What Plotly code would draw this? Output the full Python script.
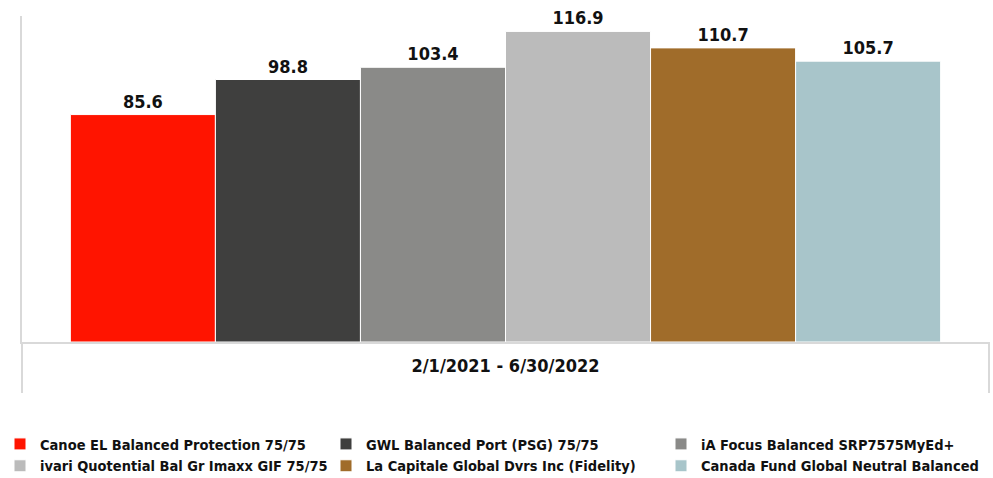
import plotly.graph_objects as go

category = "2/1/2021 - 6/30/2022"
funds = [
    "Canoe EL Balanced Protection 75/75",
    "GWL Balanced Port (PSG) 75/75",
    "iA Focus Balanced SRP7575MyEd+",
    "ivari Quotential Bal Gr Imaxx GIF 75/75",
    "La Capitale Global Dvrs Inc (Fidelity)",
    "Canada Fund Global Neutral Balanced",
]
values = [85.6, 98.8, 103.4, 116.9, 110.7, 105.7]
colors = ["#FF1400", "#3F3F3E", "#8A8A88", "#BBBBBB", "#A06C2A", "#A8C5CA"]
# legend column for each fund (3 columns x 2 rows)
legend_cols = ["legend", "legend2", "legend3", "legend", "legend2", "legend3"]

FONT = "DejaVu Sans Condensed, Roboto, sans-serif"

fig = go.Figure()
for name, v, c, lg in zip(funds, values, colors, legend_cols):
    fig.add_trace(go.Bar(
        x=[category], y=[v], name=name, legend=lg,
        marker=dict(color=c, line=dict(color="white", width=1)),
        text=[f"{v:.1f}"], textposition="outside", cliponaxis=False,
        textfont=dict(family=FONT, size=18, color="#111111", weight="bold"),
    ))

legend_font = dict(family=FONT, size=14.5, color="#111111", weight="bold")
def legend_at(xpx):
    return dict(
        orientation="v", xref="container", yref="container",
        x=xpx / 993, y=0.1046, xanchor="left", yanchor="top",
        itemwidth=30, tracegroupgap=0, font=legend_font,
        traceorder="normal", bgcolor="rgba(0,0,0,0)",
    )

fig.update_layout(
    width=993, height=478,
    margin=dict(l=22, r=4, t=16, b=136, autoexpand=False),
    plot_bgcolor="white", paper_bgcolor="white",
    barmode="group", bargap=0.1, bargroupgap=0,
    font=dict(family=FONT, color="#111111"),
    showlegend=True,
    legend=legend_at(0),
    legend2=legend_at(326),
    legend3=legend_at(661),
    xaxis=dict(
        showline=True, linecolor="#D9D9D9", linewidth=2,
        showticklabels=True, ticks="", showgrid=False,
        tickfont=dict(family=FONT, size=18, color="#111111", weight="bold"),
        ticklabelstandoff=6,
    ),
    yaxis=dict(
        range=[0, 122.7], showline=True, linecolor="#D9D9D9", linewidth=2,
        showticklabels=False, showgrid=False, zeroline=False,
        dtick=30, ticks="inside", ticklen=3, tickcolor="white",
    ),
)

# category divider lines below the baseline
for xp in (0, 1):
    fig.add_shape(type="line", xref="paper", yref="paper",
                  x0=xp, x1=xp, y0=0, y1=-51 / 326,
                  line=dict(color="#D9D9D9", width=2))

fig.write_html("out.html", config={"displayModeBar": False},
               post_script="document.body.style.margin='0px';")
